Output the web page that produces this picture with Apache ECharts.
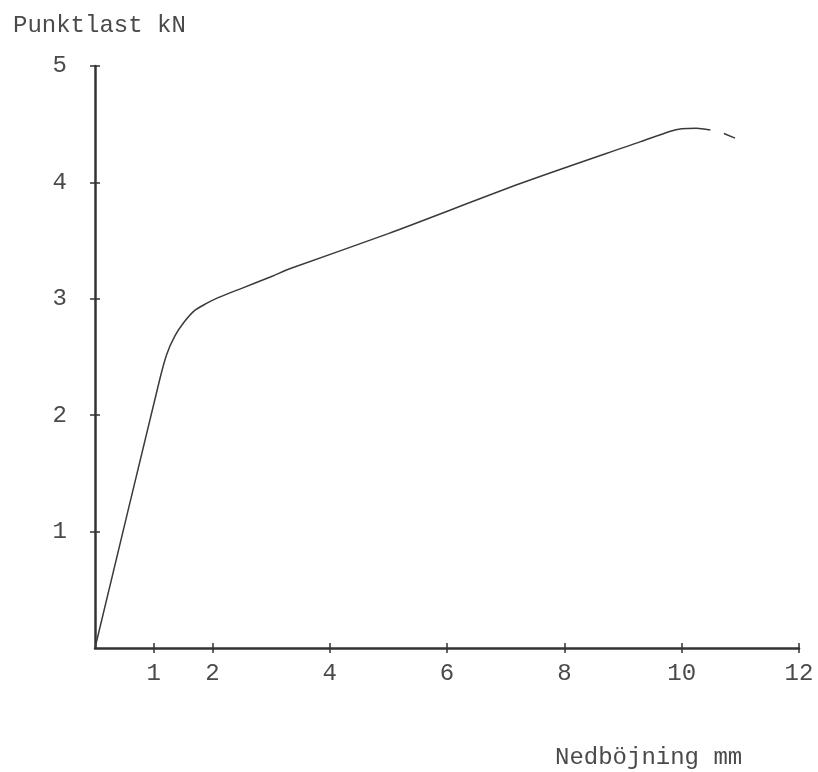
<!DOCTYPE html>
<html><head><meta charset="utf-8">
<script src="https://cdn.jsdelivr.net/npm/echarts@6/dist/echarts.min.js"></script>
<style>html,body{margin:0;padding:0;background:#fff}#c{width:818px;height:772px}</style>
</head><body><div id="c"></div>
<script>
const deflection = [0, 1.1, 1.22, 1.36, 1.52, 1.7, 1.9, 2.1, 2.5, 3.0, 3.33, 5.0, 7.25, 9.3, 9.81, 10.0, 10.25, 10.49, null, 10.72, 10.91];
const load =       [0, 2.3, 2.52, 2.68, 2.8, 2.9, 2.96, 3.01, 3.09, 3.19, 3.26, 3.56, 3.99, 4.35, 4.44, 4.46, 4.465, 4.45, null, 4.42, 4.38];
const xTicks = [1, 2, 4, 6, 8, 10, 12];
const yTicks = [1, 2, 3, 4, 5];
const yTitle = 'Punktlast kN';
const xTitle = 'Nedböjning mm';

const data = deflection.map((x, i) => x === null ? [null, null] : [x, load[i]]);
const font = '"Courier New", "Liberation Mono", monospace';
const txt = '#4a4a4a';
const ax = '#333';
const grid = {left: 95, right: 19, top: 66, bottom: 124};

const chart = echarts.init(document.getElementById('c'), null, {renderer: 'canvas'});
chart.setOption({
  animation: false,
  backgroundColor: '#fff',
  title: [
    {text: yTitle, left: 8, top: 9, textStyle: {fontFamily: font, fontSize: 24, fontWeight: 'normal', color: txt}},
    {text: xTitle, left: 550, top: 741, textStyle: {fontFamily: font, fontSize: 24, fontWeight: 'normal', color: txt}}
  ],
  grid: grid,
  xAxis: [{
    type: 'value', min: 0, max: 12, interval: 1,
    axisLine: {show: true, onZero: false, lineStyle: {color: ax, width: 2.5}},
    axisTick: {show: true, inside: false, length: 5, lineStyle: {color: ax, width: 1.5}, customValues: xTicks},
    axisLabel: {show: true, margin: 14, fontFamily: font, fontSize: 24, color: txt, customValues: xTicks},
    splitLine: {show: false}
  }, {
    type: 'value', min: 0, max: 12, interval: 1, position: 'bottom', gridIndex: 0,
    axisLine: {show: false},
    axisTick: {show: true, inside: true, length: 5, lineStyle: {color: ax, width: 1.5}, customValues: xTicks},
    axisLabel: {show: false},
    splitLine: {show: false}
  }],
  yAxis: [{
    type: 'value', min: 0, max: 5, interval: 1,
    axisLine: {show: true, onZero: false, lineStyle: {color: ax, width: 2.5}},
    axisTick: {show: true, inside: false, length: 5, lineStyle: {color: ax, width: 1.5}, customValues: yTicks},
    axisLabel: {show: true, margin: 28, fontFamily: font, fontSize: 24, color: txt, customValues: yTicks},
    splitLine: {show: false}
  }, {
    type: 'value', min: 0, max: 5, interval: 1, position: 'left', gridIndex: 0,
    axisLine: {show: false},
    axisTick: {show: true, inside: true, length: 5, lineStyle: {color: ax, width: 1.5}, customValues: yTicks},
    axisLabel: {show: false},
    splitLine: {show: false}
  }],
  series: [{
    type: 'line', xAxisIndex: 0, yAxisIndex: 0,
    data: data, showSymbol: false, smooth: 0.25, connectNulls: false,
    lineStyle: {color: '#3a3a3a', width: 1.5}
  }]
});
</script></body></html>
